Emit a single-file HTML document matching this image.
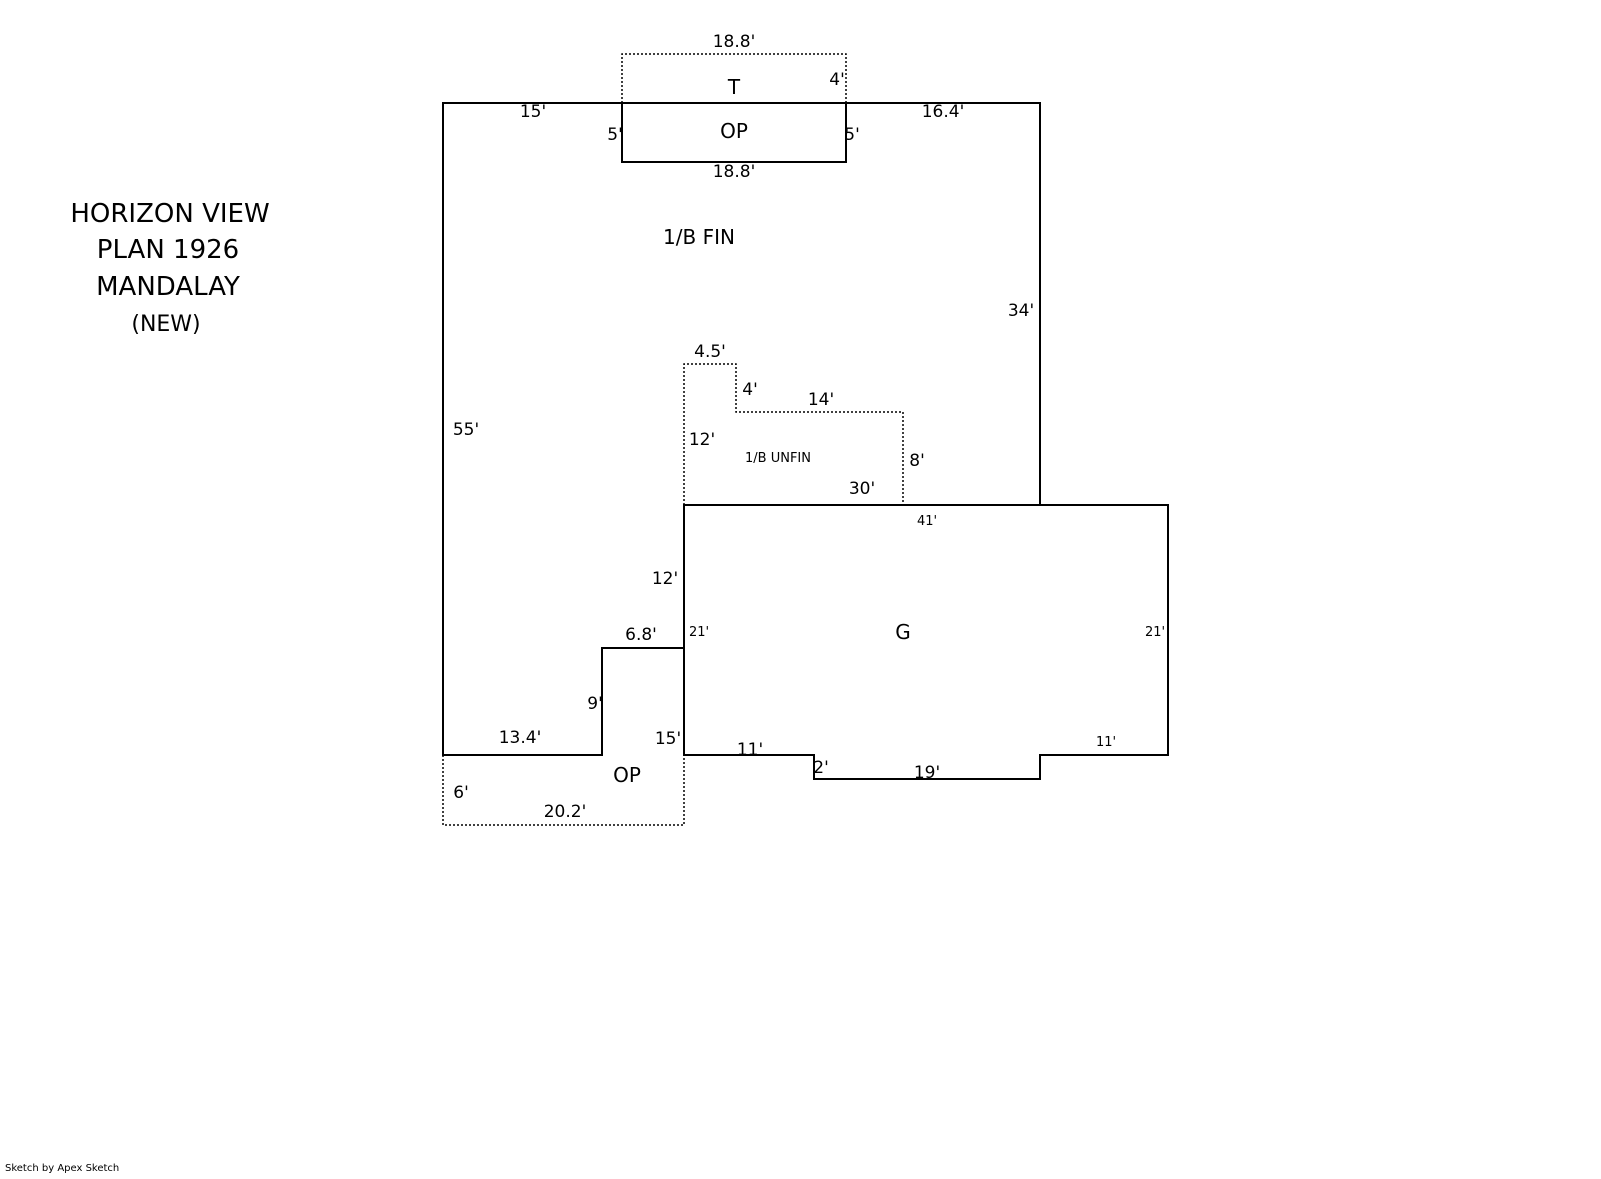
<!DOCTYPE html>
<html><head><meta charset="utf-8"><style>
body{margin:0;background:#fff;}
svg text{font-family:"DejaVu Sans","Liberation Sans",sans-serif;fill:#000;}
</style></head><body>
<svg width="1601" height="1174" viewBox="0 0 1601 1174" xmlns="http://www.w3.org/2000/svg">
<g fill="none" stroke="#000" stroke-width="2">
<polyline points="622,103 443,103 443,755 602,755 602,648 684,648 684,505 1040,505 1040,103 846,103"/>
<rect x="622" y="103" width="224" height="59"/>
<polyline points="684,505 1168,505 1168,755 1040,755 1040,779 814,779 814,755 684,755 684,648"/>
</g>
<g fill="none" stroke="#000" stroke-width="1.5" stroke-dasharray="2,2">
<polyline points="622,103 622,54 846,54 846,103 622,103"/>
<polyline points="684,505 684,364 736,364 736,412 903,412 903,505"/>
<polyline points="443,755 443,825 684,825 684,755"/>
</g>
<g font-size="26" text-anchor="middle">
<text x="170" y="222">HORIZON VIEW</text>
<text x="168" y="258">PLAN 1926</text>
<text x="168" y="295">MANDALAY</text>
<text x="166" y="331" font-size="22">(NEW)</text>
</g>
<g font-size="20" text-anchor="middle">
<text x="734" y="94">T</text>
<text x="734" y="138">OP</text>
<text x="699" y="244">1/B FIN</text>
<text x="903" y="639">G</text>
<text x="627" y="782">OP</text>
</g>
<g font-size="17" text-anchor="middle">
<text x="734" y="47">18.8'</text>
<text x="837" y="85">4'</text>
<text x="533" y="117">15'</text>
<text x="943" y="117">16.4'</text>
<text x="615" y="140">5'</text>
<text x="852" y="140">5'</text>
<text x="734" y="177">18.8'</text>
<text x="1021" y="316">34'</text>
<text x="710" y="357">4.5'</text>
<text x="750" y="395">4'</text>
<text x="821" y="405">14'</text>
<text x="466" y="435">55'</text>
<text x="702" y="445">12'</text>
<text x="917" y="466">8'</text>
<text x="862" y="494">30'</text>
<text x="665" y="584">12'</text>
<text x="641" y="640">6.8'</text>
<text x="595" y="709">9'</text>
<text x="520" y="743">13.4'</text>
<text x="668" y="744">15'</text>
<text x="750" y="755">11'</text>
<text x="821" y="773">2'</text>
<text x="927" y="778">19'</text>
<text x="461" y="798">6'</text>
<text x="565" y="817">20.2'</text>
</g>
<g font-size="13" text-anchor="middle">
<text x="778" y="462">1/B UNFIN</text>
<text x="927" y="525">41'</text>
<text x="699" y="636">21'</text>
<text x="1155" y="636">21'</text>
<text x="1106" y="746">11'</text>
</g>
<text x="5" y="1171" font-size="10" font-family="Liberation Sans,sans-serif">Sketch by Apex Sketch</text>
</svg>
</body></html>
